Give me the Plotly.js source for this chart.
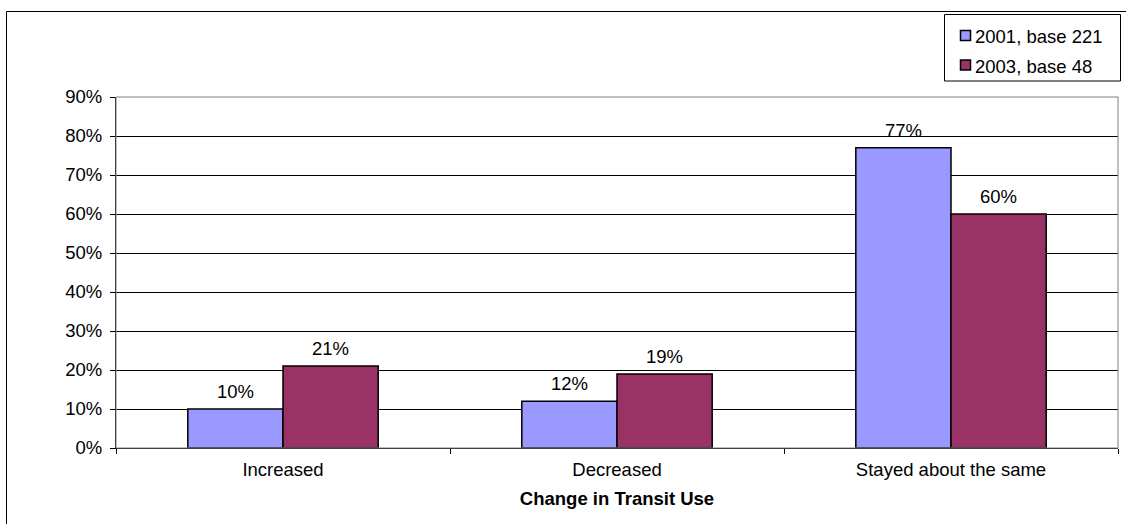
<!DOCTYPE html>
<html>
<head>
<meta charset="utf-8">
<script src="https://cdn.plot.ly/plotly-3.0.1.min.js"></script>
<style>
  html, body { margin: 0; padding: 0; background: #ffffff; }
  #chart { width: 1126px; height: 524px; }
</style>
</head>
<body>
<div id="chart"></div>
<script>
// Change in transit use, share of respondents per answer
const categories = ["Increased", "Decreased", "Stayed about the same"];
const seriesNames = ["2001, base 221", "2003, base 48"];
const values2001 = [10, 12, 77];
const values2003 = [21, 19, 60];
const yTickVals = [0, 10, 20, 30, 40, 50, 60, 70, 80, 90];
const yTickText = ["0%", "10%", "20%", "30%", "40%", "50%", "60%", "70%", "80%", "90%"];

const FONT = "Liberation Sans, Arial, sans-serif";
const FS = 18.5;
const colors = ["#9999FF", "#993366"];
const seriesValues = [values2001, values2003];

// plot area in pixels: left 116, right 1118, top 97, bottom 448
const PL = 116, PW = 1002, PB = 448, PH = 351;
const px = v => (v - PL) / PW;
const py = v => (PB - v) / PH;

const traces = seriesValues.map((vals, s) => ({
  type: "bar",
  name: seriesNames[s],
  x: categories,
  y: vals,
  marker: { color: colors[s], line: { color: "#000000", width: 1.5 } },
  showlegend: false,
  hoverinfo: "x+y"
}));

const annotations = [];
// value labels above each bar, shifted onto the centre of its bar in the group
seriesValues.forEach((vals, s) => {
  vals.forEach((v, i) => {
    annotations.push({
      x: categories[i], y: v, xref: "x", yref: "y",
      text: v + "%", showarrow: false,
      xanchor: "center", yanchor: "bottom",
      xshift: s === 0 ? -47.7 : 47.7, yshift: 5,
      font: { family: FONT, size: FS, color: "#000000" }
    });
  });
});

const shapes = [
  // plot area border (grey top and right edges)
  { type: "rect", xref: "paper", yref: "paper", x0: 0, x1: 1, y0: 0, y1: 1,
    line: { color: "#808080", width: 1 }, fillcolor: "rgba(0,0,0,0)", layer: "above" },
  // outer chart frame
  { type: "rect", xref: "paper", yref: "paper",
    x0: px(6.5), x1: px(1135), y0: py(540), y1: py(11.5),
    line: { color: "#000000", width: 1 }, fillcolor: "rgba(0,0,0,0)", layer: "above" },
  // legend box
  { type: "rect", xref: "paper", yref: "paper",
    x0: px(944.5), x1: px(1120.5), y0: py(81), y1: py(14.5),
    line: { color: "#000000", width: 1 }, fillcolor: "#ffffff", layer: "above" }
];

// legend entries
const legendRows = [35.5, 65];
seriesNames.forEach((name, s) => {
  const yc = legendRows[s];
  shapes.push({
    type: "rect", xref: "paper", yref: "paper",
    x0: px(960.5), x1: px(970.5), y0: py(yc + 5), y1: py(yc - 5),
    line: { color: "#000000", width: 1.5 }, fillcolor: colors[s], layer: "above"
  });
  annotations.push({
    x: px(973), y: py(yc + 1), xref: "paper", yref: "paper",
    text: name, showarrow: false, xanchor: "left", yanchor: "middle",
    font: { family: FONT, size: FS, color: "#000000" }
  });
});

const layout = {
  width: 1126, height: 524,
  margin: { l: 116, r: 8, t: 97, b: 76 },
  paper_bgcolor: "#ffffff",
  plot_bgcolor: "#ffffff",
  font: { family: FONT, size: FS, color: "#000000" },
  barmode: "group",
  bargap: 0.43,
  bargroupgap: 0,
  showlegend: false,
  xaxis: {
    type: "category",
    showline: true, linecolor: "#000000", linewidth: 1,
    ticks: "outside", tickson: "boundaries", ticklen: 5, tickcolor: "#000000", tickwidth: 1,
    ticklabelstandoff: 5,
    showgrid: false, zeroline: false,
    tickfont: { family: FONT, size: FS, color: "#000000" },
    title: { text: "<b>Change in Transit Use</b>", font: { family: FONT, size: FS, color: "#000000" }, standoff: 12 }
  },
  yaxis: {
    range: [0, 90],
    tickvals: yTickVals, ticktext: yTickText,
    showline: true, linecolor: "#000000", linewidth: 1,
    ticks: "outside", ticklen: 5, tickcolor: "#000000", tickwidth: 1,
    ticklabelstandoff: 4,
    showgrid: true, gridcolor: "#000000", gridwidth: 1,
    zeroline: false,
    tickfont: { family: FONT, size: FS, color: "#000000" }
  },
  annotations: annotations,
  shapes: shapes
};

Plotly.newPlot("chart", traces, layout, { displayModeBar: false, staticPlot: true });
</script>
</body>
</html>
